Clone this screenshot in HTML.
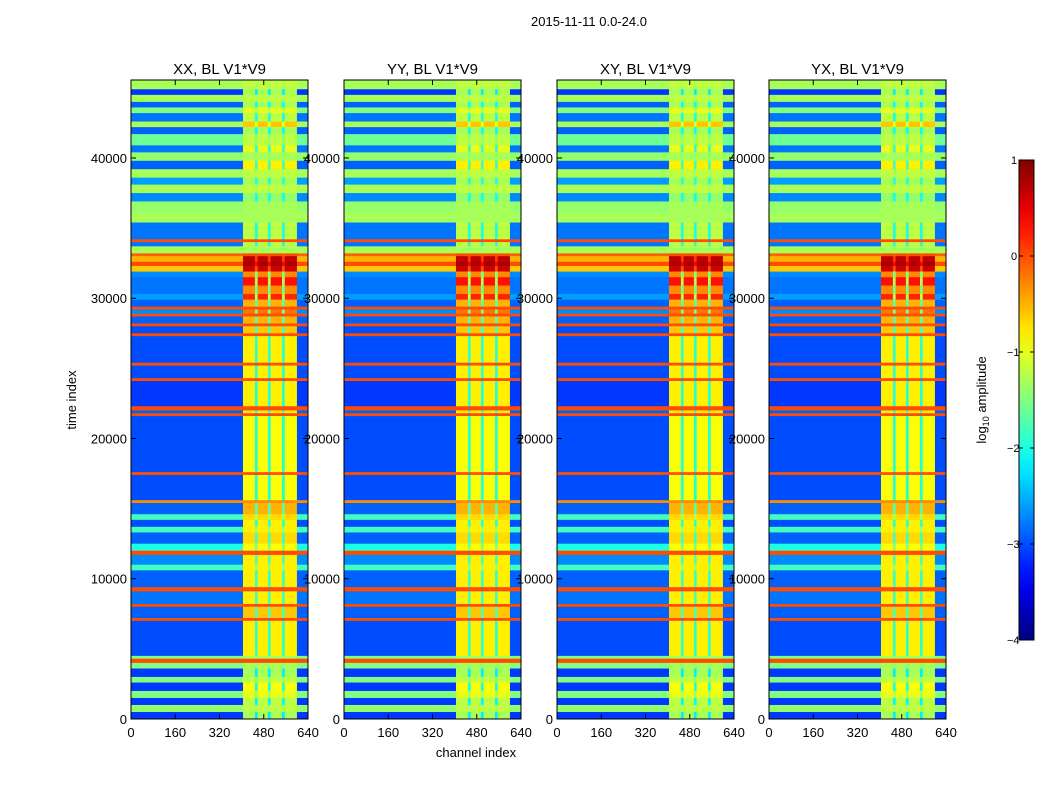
<!DOCTYPE html>
<html><head><meta charset="utf-8"><style>
body{margin:0;background:#fff;font-family:"Liberation Sans",sans-serif}
svg text{font-family:"Liberation Sans",sans-serif}
</style></head><body>
<svg id="fig" width="1050" height="800" xmlns="http://www.w3.org/2000/svg">
<rect width="1050" height="800" fill="#fff"/>
<text x="589" y="26" font-size="13" text-anchor="middle">2015-11-11 0.0-24.0</text>
<text transform="translate(76,400) rotate(-90)" font-size="13" text-anchor="middle">time index</text>
<text x="476" y="757" font-size="13" text-anchor="middle">channel index</text>
</svg>
<script>
// ---- data ----
const panelTitles = ["XX, BL V1*V9","YY, BL V1*V9","XY, BL V1*V9","YX, BL V1*V9"];
const xTicks = [0,160,320,480,640];
const yTicks = [0,10000,20000,30000,40000];
const cbTicks = [1,0,-1,-2,-3,-4];
// time bands (thousands): start, end, background value, bright-region value
const bandStart = [44.9,44.5,44.0,43.6,43.2,42.6,42.2,41.7,40.9,40.4,39.8,39.2,38.6,38.1,37.5,36.9,36.1,35.4,34.2,34.0,33.7,33.2,33.0,32.6,32.3,31.9,31.5,30.9,30.3,29.9,29.4,29.2,28.9,28.7,28.2,28.0,27.5,27.3,25.4,25.2,24.3,24.1,22.3,22.0,21.8,21.6,17.6,17.4,15.6,15.4,14.6,14.2,13.7,13.3,12.5,12.0,11.7,11.0,10.6,9.4,9.1,8.2,8.0,7.2,7.0,4.5,4.3,4.0,3.6,3.0,2.6,2.0,1.5,1.0,0.5,0];
const bandEnd = [45.6,44.9,44.5,44.0,43.6,43.2,42.6,42.2,41.7,40.9,40.4,39.8,39.2,38.6,38.1,37.5,36.9,36.1,35.4,34.2,34.0,33.7,33.2,33.0,32.6,32.3,31.9,31.5,30.9,30.3,29.9,29.4,29.2,28.9,28.7,28.2,28.0,27.5,27.3,25.4,25.2,24.3,24.1,22.3,22.0,21.8,21.6,17.6,17.4,15.6,15.4,14.6,14.2,13.7,13.3,12.5,12.0,11.7,11.0,10.6,9.4,9.1,8.2,8.0,7.2,7.0,4.5,4.3,4.0,3.6,3.0,2.6,2.0,1.5,1.0,0.5];
const bgValue = [-1.3,-3.1,-1.3,-2.9,-1.5,-2.8,-1.3,-2.9,-1.6,-2.8,-1.4,-2.9,-1.3,-2.6,-1.3,-2.7,-1.4,-1.3,-2.8,0.0,-2.8,-1.3,-0.1,-0.5,0.0,-0.6,-2.7,-2.8,-2.8,-2.6,-2.9,0.0,-2.7,0.0,-2.9,0.0,-3.0,0.0,-3.0,0.0,-3.0,0.0,-3.1,0.0,-2.9,0.0,-3.0,0.0,-3.0,-0.3,-2.9,-1.8,-3.0,-1.8,-2.9,-2.0,0.0,-2.7,-1.8,-2.9,0.0,-2.8,0.0,-2.9,0.0,-3.0,-1.5,0.0,-1.5,-3.1,-1.5,-3.1,-1.5,-3.1,-1.4,-3.1];
const brightValue = [-1.2,-1.3,-1.2,-1.3,-1.0,-1.2,-0.6,-1.3,-1.2,-1.0,-1.3,-0.8,-1.2,-1.3,-1.2,-1.4,-1.3,-1.3,-1.2,0.0,-1.2,-1.3,0.0,0.7,0.8,0.6,-0.3,0.3,-0.3,0.2,-0.5,0.0,-0.2,0.0,-0.5,0.0,-0.6,0.0,-0.8,0.0,-0.8,0.0,-0.8,0.0,-0.8,0.0,-0.9,0.0,-0.9,-0.3,-0.5,-0.7,-0.8,-0.8,-0.7,-0.9,0.0,-0.8,-0.8,-0.8,0.0,-0.8,0.0,-0.6,0.0,-0.8,-1.3,0.0,-1.3,-1.3,-1.2,-0.9,-1.0,-1.2,-1.2,-1.3];
// channel groups: start, end, kind (0 background, 1 bright, 2 dark gap)
const colStart = [0,405,448,458,495,505,546,556,600];
const colEnd = [405,448,458,495,505,546,556,600,640];
const colKind = [0,1,2,1,2,1,2,1,0];

// ---- axes ----
const NS="http://www.w3.org/2000/svg";
const svg=document.getElementById('fig');
const panelX=[131,344,557,769], PW=177, PT=80, PB=719, TMAX=45560;
const xs=(p,c)=>panelX[p]+c/640*PW;
const ys=t=>PB-t/TMAX*(PB-PT);
function jet(v){const f=Math.max(0,Math.min(1,(v+4)/5));const c=x=>Math.round(255*Math.max(0,Math.min(1,1.5-Math.abs(x))));return `rgb(${c(4*f-3)},${c(4*f-2)},${c(4*f-1)})`;}
function el(tag,attrs){const e=document.createElementNS(NS,tag);for(const k in attrs)e.setAttribute(k,attrs[k]);svg.appendChild(e);return e;}

for(let p=0;p<4;p++){
  const g=document.createElementNS(NS,'g');
  
  
  svg.appendChild(g);
  for(let i=0;i<bandStart.length;i++){
    for(let j=0;j<colStart.length;j++){
      const L=bgValue[i],R=brightValue[i];
      const v=colKind[j]===0?L:colKind[j]===1?R:(L+R)/2;
      const r=document.createElementNS(NS,'rect');
      
      
      const x0=xs(p,colStart[j]),x1=xs(p,colEnd[j]),y0=ys(bandEnd[i]*1000),y1=ys(bandStart[i]*1000);
      r.setAttribute('x',x0);r.setAttribute('y',y0);
      r.setAttribute('width',x1-x0+0.3);r.setAttribute('height',y1-y0+0.3);
      r.setAttribute('fill',jet(v));
      g.appendChild(r);
    }
  }
  const fr=el('rect',{x:panelX[p],y:PT,width:PW,height:PB-PT,fill:'none',stroke:'#000','stroke-width':1});
  
  
  const tt=el('text',{x:panelX[p]+PW/2,y:74,'font-size':15,'text-anchor':'middle'});
  tt.textContent=panelTitles[p];
  
  
  xTicks.forEach(c=>{
    const x=xs(p,c);
    el('line',{x1:x,x2:x,y1:PB,y2:PB-5,stroke:'#000'});
    el('line',{x1:x,x2:x,y1:PT,y2:PT+5,stroke:'#000'});
    const t=el('text',{x:x,y:737,'font-size':13,'text-anchor':'middle'});
    t.textContent=c;
    
    
  });
  yTicks.forEach(v=>{
    const y=ys(v);
    el('line',{x1:panelX[p],x2:panelX[p]+5,y1:y,y2:y,stroke:'#000'});
    el('line',{x1:panelX[p]+PW,x2:panelX[p]+PW-5,y1:y,y2:y,stroke:'#000'});
    const t=el('text',{x:panelX[p]-4,y:y+5,'font-size':13,'text-anchor':'end'});
    t.textContent=v;
    
    
  });
}
// ---- colorbar ----
const CX=1019,CW=15,CT=160,CB=640;
const cbY=v=>CT+(1-v)/5*(CB-CT);
const defs=el('defs',{});
const lg=document.createElementNS(NS,'linearGradient');
lg.setAttribute('id','jetg');lg.setAttribute('x1','0');lg.setAttribute('y1','1');lg.setAttribute('x2','0');lg.setAttribute('y2','0');
defs.appendChild(lg);
for(let k=0;k<=20;k++){const s=document.createElementNS(NS,'stop');s.setAttribute('offset',k/20);s.setAttribute('stop-color',jet(-4+5*k/20));lg.appendChild(s);}
const cb=el('rect',{x:CX,y:CT,width:CW,height:CB-CT,fill:'url(#jetg)',stroke:'#000'});


cbTicks.forEach(v=>{
  const y=cbY(v);
  el('line',{x1:CX+CW,x2:CX+CW-4,y1:y,y2:y,stroke:'#000'});
  el('line',{x1:CX,x2:CX+4,y1:y,y2:y,stroke:'#000'});
  const t=el('text',{x:CX-9,y:y+4,'font-size':11,'text-anchor':'start'});
  t.textContent=v<0?'\u2212'+(-v):v;
  t.setAttribute('x',v<0?CX-12:CX-8);
  
  
});
const cl=el('text',{transform:'translate(986,400) rotate(-90)','font-size':13,'text-anchor':'middle'});
cl.innerHTML='log<tspan font-size="9" dy="3">10</tspan><tspan dy="-3"> amplitude</tspan>';


</script>
</body></html>
